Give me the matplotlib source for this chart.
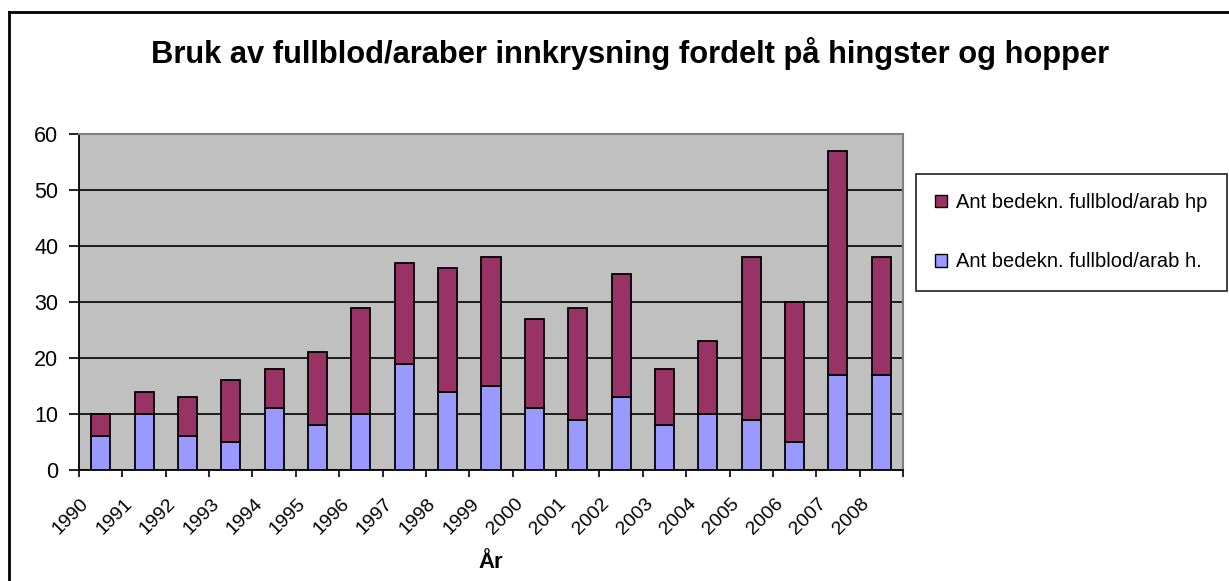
import numpy as np
import matplotlib
matplotlib.use('Agg')
import matplotlib.pyplot as plt
import matplotlib.transforms as mtransforms
from matplotlib.lines import Line2D
from matplotlib.patches import Patch

plt.rcParams['font.family'] = ['Liberation Sans', 'DejaVu Sans']

years = ['1990', '1991', '1992', '1993', '1994', '1995', '1996', '1997', '1998', '1999',
         '2000', '2001', '2002', '2003', '2004', '2005', '2006', '2007', '2008']
hingster = [6, 10, 6, 5, 11, 8, 10, 19, 14, 15, 11, 9, 13, 8, 10, 9, 5, 17, 17]
totals = [10, 14, 13, 16, 18, 21, 29, 37, 36, 38, 27, 29, 35, 18, 23, 38, 30, 57, 38]
hopper = [t - h for t, h in zip(totals, hingster)]

label_h = 'Ant bedekn. fullblod/arab h.'
label_hp = 'Ant bedekn. fullblod/arab hp'
c_h = '#9999FF'
c_hp = '#993366'

W, H = 1229, 581
fig = plt.figure(figsize=(W / 100, H / 100), dpi=100)
ax = fig.add_axes([79 / W, 1 - 470 / H, (903 - 79) / W, (470 - 134) / H])
ax.set_facecolor('#C0C0C0')

x = np.arange(len(years))
ax.bar(x, hingster, width=0.44, color=c_h, edgecolor='black', linewidth=1.3, zorder=3)
ax.bar(x, hopper, bottom=hingster, width=0.44, color=c_hp, edgecolor='black', linewidth=1.3, zorder=3)

ax.set_xlim(-0.5, len(years) - 0.5)
ax.set_ylim(0, 60)
ax.set_yticks(np.arange(0, 61, 10))
ax.yaxis.grid(True, color='black', linewidth=1.2, zorder=1)
ax.tick_params(axis='y', labelsize=15.5, length=7, width=1.2, direction='out', pad=8)

ax.set_xticks(np.arange(len(years) + 1) - 0.5)
ax.set_xticklabels(years + [''], rotation=45, ha='right', rotation_mode='anchor', fontsize=14)
ax.tick_params(axis='x', length=5, width=1.2, direction='out', pad=13)
# small nudge of the rotated labels, Excel style
offset = mtransforms.ScaledTranslation(1 / 72, 0, fig.dpi_scale_trans)
for lab in ax.get_xticklabels():
    lab.set_transform(lab.get_transform() + offset)

ax.spines['left'].set_linewidth(1.3)
ax.spines['bottom'].set_linewidth(1.3)
ax.spines['top'].set_color('#808080')
ax.spines['right'].set_color('#808080')
ax.spines['top'].set_linewidth(1.5)
ax.spines['right'].set_linewidth(1.5)

ax.set_xlabel('År', fontsize=16, fontweight='bold', va='center')
ax.xaxis.set_label_coords(0.5, -(562 - 470) / 336)

fig.text(630 / W, 1 - 53 / H, 'Bruk av fullblod/araber innkrysning fordelt på hingster og hopper',
         ha='center', va='center', fontsize=22.2, fontweight='bold')

handles = [Patch(facecolor=c_hp, edgecolor='black', label=label_hp),
           Patch(facecolor=c_h, edgecolor='black', label=label_h)]
leg = fig.legend(handles=handles, loc='upper left', bbox_to_anchor=(916 / W, 1 - 174 / H),
                 borderaxespad=0, fontsize=14.5, frameon=True, fancybox=False,
                 edgecolor='black', labelspacing=2.0, handlelength=0.6, handleheight=0.6,
                 handletextpad=0.45, borderpad=0.95)
leg.get_frame().set_linewidth(1.3)

# outer chart frame
fig.add_artist(Line2D([9 / W, 9 / W], [0, 1 - 12 / H], color='black', linewidth=2, transform=fig.transFigure))
fig.add_artist(Line2D([9 / W, 1], [1 - 12 / H, 1 - 12 / H], color='black', linewidth=2, transform=fig.transFigure))

fig.savefig('out.png', dpi=100)
